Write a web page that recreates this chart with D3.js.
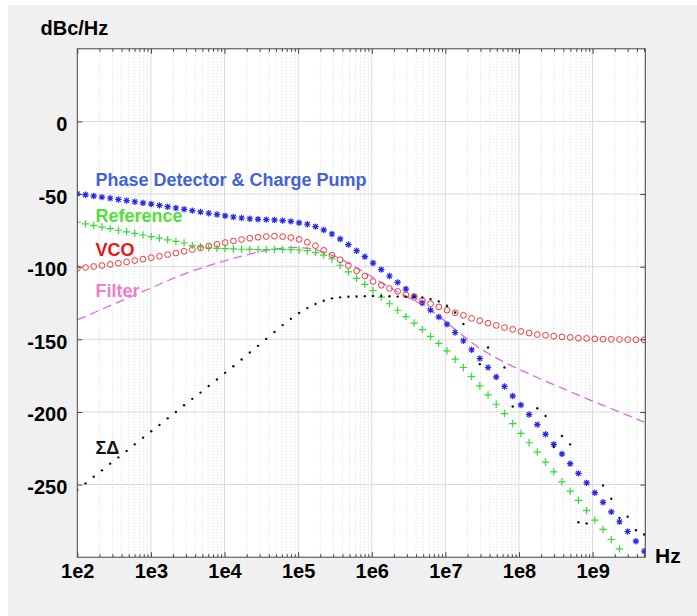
<!DOCTYPE html>
<html>
<head>
<meta charset="utf-8">
<script src="https://cdn.jsdelivr.net/npm/d3@7"></script>
<style>
  body { margin: 0; background: #fff; }
  text { font-family: "Liberation Sans", Arial, sans-serif; font-weight: bold; }
</style>
</head>
<body>
<svg id="chart"></svg>
<script>
// offset frequencies (Hz), one per sample
const freq = [
  100, 129.3, 167.2, 216.2, 279.5, 361.4, 467.2, 604.1, 781.1, 1010,
  1306, 1689, 2184, 2823, 3650, 4719, 6102, 7890, 10200, 13190,
  17050, 22050, 28520, 36870, 47680, 61650, 79690, 1.030e5, 1.332e5, 1.722e5,
  2.227e5, 2.880e5, 3.724e5, 4.815e5, 6.226e5, 8.050e5, 1.041e6, 1.346e6, 1.740e6, 2.250e6,
  2.909e6, 3.761e6, 4.864e6, 6.289e6, 8.130e6, 1.051e7, 1.359e7, 1.757e7, 2.272e7, 2.938e7,
  3.799e7, 4.912e7, 6.352e7, 8.213e7, 1.062e8, 1.373e8, 1.775e8, 2.296e8, 2.968e8, 3.838e8,
  4.962e8, 6.415e8, 8.295e8, 1.072e9, 1.387e9, 1.793e9, 2.318e9, 2.998e9, 3.876e9, 5.012e9
];

// phase noise contributions, dBc/Hz
const pdcp = [
  -49.8, -50.5, -51.3, -52.1, -52.9, -53.7, -54.5, -55.3, -56.1, -56.9,
  -57.8, -58.7, -59.6, -60.5, -61.4, -62.3, -63.2, -64.1, -65.0, -65.8,
  -66.5, -67.0, -67.3, -67.6, -67.8, -68.3, -68.8, -69.8, -70.8, -72.4,
  -74.7, -77.5, -80.9, -84.8, -89.0, -93.1, -97.5, -102.0, -106.4, -110.8,
  -115.4, -120.3, -125.0, -129.9, -134.6, -139.6, -145.3, -151.0, -157.2, -163.2,
  -169.4, -175.9, -182.5, -189.0, -195.2, -201.8, -208.7, -215.4, -222.3, -228.9,
  -235.6, -242.3, -248.8, -255.6, -262.2, -268.8, -275.6, -282.3, -289.0, -295.9
];

const reference = [
  -69.4, -70.5, -71.6, -72.7, -73.8, -74.9, -76.0, -77.1, -78.2, -79.3,
  -80.4, -81.5, -82.6, -83.7, -85.5, -86.3, -87.0, -87.4, -87.6, -87.8,
  -88.0, -88.1, -88.2, -88.2, -88.1, -88.1, -88.2, -88.5, -89.0, -90.3,
  -92.0, -94.7, -99.0, -103.6, -108.0, -112.2, -116.4, -120.9, -125.5, -130.0,
  -134.4, -138.8, -143.3, -148.0, -152.8, -157.9, -163.7, -169.4, -175.6, -182.0,
  -188.3, -194.7, -201.1, -208.0, -214.7, -221.2, -227.6, -234.5, -241.2, -248.1,
  -254.5, -260.9, -267.8, -274.5, -280.9, -287.8, -294.3, -301.0, -307.7, -314.4
];

const vco = [
  -101.2, -100.6, -99.9, -99.2, -98.4, -97.6, -96.7, -95.8, -94.8, -93.8,
  -92.8, -91.7, -90.6, -89.4, -88.2, -87.0, -85.8, -84.6, -83.4, -82.3,
  -81.3, -80.4, -79.7, -79.2, -79.0, -79.3, -79.9, -81.2, -83.2, -85.6,
  -88.8, -92.0, -95.2, -99.3, -102.8, -106.4, -110.2, -112.8, -115.0, -117.0,
  -119.4, -121.2, -123.4, -125.5, -127.7, -129.9, -131.7, -133.5, -135.6, -137.2,
  -138.9, -140.4, -141.9, -143.2, -144.6, -145.7, -146.7, -147.2, -147.8, -148.3,
  -148.7, -149.2, -149.4, -149.7, -149.9, -150.0, -150.1, -150.2, -150.3, -150.4
];

const filter = [
  -136.6, -134.2, -131.7, -129.3, -126.8, -124.4, -121.9, -119.5, -117.0, -114.6,
  -112.1, -109.7, -107.3, -105.1, -103.0, -101.1, -99.3, -97.6, -95.9, -94.3,
  -92.8, -91.3, -90.0, -88.8, -87.9, -87.2, -86.8, -86.8, -87.3, -88.3,
  -89.9, -92.0, -94.5, -97.5, -100.7, -104.0, -107.4, -110.8, -114.2, -117.4,
  -120.4, -123.2, -126.2, -129.6, -134.0, -138.5, -143.2, -147.8, -152.2, -156.2,
  -159.6, -162.8, -165.8, -168.6, -171.2, -173.8, -176.3, -178.8, -181.2, -183.6,
  -186.0, -188.4, -190.8, -193.2, -195.5, -197.8, -200.0, -202.3, -204.6, -207.0
];

// null = no visible sample
const sigmaDelta = [
  -253.6, -249.2, -244.6, -240.2, -235.6, -231.3, -226.9, -222.3, -217.7, -213.3,
  -209.0, -204.4, -200.0, -195.4, -191.0, -186.7, -182.1, -177.7, -173.1, -168.5,
  -163.9, -159.1, -154.5, -149.7, -145.0, -140.2, -135.9, -131.9, -128.5, -125.7,
  -123.4, -121.8, -121.1, -120.7, -120.5, -120.3, -120.2, -120.2, -120.4, -120.6,
  -120.6, -120.7, -121.1, -122.3, -123.9, -126.9, -131.5, -139.5, null, -167.1,
  -155.6, null, -169.4, -196.3, null, null, -197.5, -202.8, -224.1, -216.6,
  -222.3, -275.9, -276.8, null, -250.6, -259.8, -272.9, -272.2, -281.4, -284.4
];

const seriesNames = ["Phase Detector & Charge Pump", "Reference", "VCO", "Filter", "ΣΔ"];

const xTickValues = [1e2, 1e3, 1e4, 1e5, 1e6, 1e7, 1e8, 1e9];
const xTickLabels = ["1e2", "1e3", "1e4", "1e5", "1e6", "1e7", "1e8", "1e9"];
const yTickValues = [0, -50, -100, -150, -200, -250];
const yTickLabels = ["0", "-50", "-100", "-150", "-200", "-250"];

(function () {
  const width = 697;
  const height = 616;
  const left = 77.3, right = 645.3, top = 48.8, bottom = 557.2;

  const svg = d3.select("#chart")
    .attr("width", width)
    .attr("height", height);

  // figure background
  svg.append("rect").attr("width", width).attr("height", height).attr("fill", "#fff");
  svg.append("rect")
    .attr("x", 8).attr("y", 5)
    .attr("width", width - 8).attr("height", height - 5)
    .attr("fill", "#f0f0f0");

  svg.append("rect")
    .attr("x", left).attr("y", top)
    .attr("width", right - left).attr("height", bottom - top)
    .attr("fill", "#fff");

  const x = d3.scaleLog().domain([1e2, 5.2e9]).range([left, right]);
  const y = d3.scaleLinear().domain([-300, 50]).range([bottom, top]);

  // minor decade positions
  const minorX = [];
  xTickValues.forEach(d => {
    for (let k = 2; k <= 9; k++) {
      if (k * d < x.domain()[1]) minorX.push(k * d);
    }
  });

  const grid = svg.append("g");

  grid.selectAll("line.minor")
    .data(minorX)
    .join("line")
    .attr("class", "minor")
    .attr("x1", d => x(d)).attr("x2", d => x(d))
    .attr("y1", top).attr("y2", bottom)
    .attr("stroke", "#cfcfcf")
    .attr("stroke-width", 0.8)
    .attr("stroke-dasharray", "1,2");

  grid.selectAll("line.major")
    .data(xTickValues.slice(1))
    .join("line")
    .attr("class", "major")
    .attr("x1", d => x(d)).attr("x2", d => x(d))
    .attr("y1", top).attr("y2", bottom)
    .attr("stroke", "#d9d9d9")
    .attr("stroke-width", 1);

  grid.selectAll("line.hmajor")
    .data(yTickValues)
    .join("line")
    .attr("class", "hmajor")
    .attr("x1", left).attr("x2", right)
    .attr("y1", d => y(d)).attr("y2", d => y(d))
    .attr("stroke", "#d9d9d9")
    .attr("stroke-width", 1);

  // data
  svg.append("clipPath").attr("id", "plotclip")
    .append("rect")
    .attr("x", left).attr("y", top)
    .attr("width", right - left).attr("height", bottom - top);

  const plot = svg.append("g").attr("clip-path", "url(#plotclip)");
  const inRange = v => v !== null && v >= -300 && v <= 50;

  const pts = vals => freq.map((f, i) => ({ f: f, v: vals[i] })).filter(d => inRange(d.v));

  plot.append("path")
    .datum(freq.map((f, i) => ({ f: f, v: filter[i] })))
    .attr("fill", "none")
    .attr("stroke", "#e066e6")
    .attr("stroke-width", 1.3)
    .attr("stroke-dasharray", "9,5")
    .attr("d", d3.line().x(d => x(d.f)).y(d => y(d.v)));

  const s = 3.2, dg = 2.3;
  plot.append("g")
    .selectAll("path")
    .data(pts(pdcp))
    .join("path")
    .attr("transform", d => `translate(${x(d.f)},${y(d.v)})`)
    .attr("d", `M${-s},0H${s}M0,${-s}V${s}M${-dg},${-dg}L${dg},${dg}M${-dg},${dg}L${dg},${-dg}`)
    .attr("stroke", "#2828ee")
    .attr("stroke-width", 1.2)
    .attr("fill", "none");

  const p = 3.7;
  plot.append("g")
    .selectAll("path")
    .data(pts(reference))
    .join("path")
    .attr("transform", d => `translate(${x(d.f)},${y(d.v)})`)
    .attr("d", `M${-p},0H${p}M0,${-p}V${p}`)
    .attr("stroke", "#33dd33")
    .attr("stroke-width", 1.2)
    .attr("fill", "none");

  plot.append("g")
    .selectAll("circle")
    .data(pts(vco))
    .join("circle")
    .attr("cx", d => x(d.f))
    .attr("cy", d => y(d.v))
    .attr("r", 2.9)
    .attr("fill", "none")
    .attr("stroke", "#ee3838")
    .attr("stroke-width", 1);

  plot.append("g")
    .selectAll("circle")
    .data(pts(sigmaDelta))
    .join("circle")
    .attr("cx", d => x(d.f))
    .attr("cy", d => y(d.v))
    .attr("r", 1.2)
    .attr("fill", "#111");

  // axes
  const axisColor = "#444";
  const styleAxis = g => {
    g.select(".domain").remove();
    g.selectAll(".tick line").attr("stroke", axisColor);
    g.selectAll("text").attr("fill", "#000").attr("font-size", 20).attr("font-weight", "bold")
      .attr("font-family", "\"Liberation Sans\", Arial, sans-serif");
  };

  svg.append("g")
    .attr("transform", `translate(0,${bottom})`)
    .call(d3.axisBottom(x).tickValues(minorX).tickFormat("").tickSizeInner(-3).tickSizeOuter(0))
    .call(styleAxis);
  svg.append("g")
    .attr("transform", `translate(0,${bottom})`)
    .call(d3.axisBottom(x).tickValues(xTickValues).tickFormat((d, i) => xTickLabels[i])
      .tickSizeInner(-5).tickSizeOuter(0).tickPadding(7))
    .call(styleAxis);

  svg.append("g")
    .attr("transform", `translate(0,${top})`)
    .call(d3.axisTop(x).tickValues(minorX).tickFormat("").tickSizeInner(-3).tickSizeOuter(0))
    .call(styleAxis);
  svg.append("g")
    .attr("transform", `translate(0,${top})`)
    .call(d3.axisTop(x).tickValues(xTickValues).tickFormat("").tickSizeInner(-5).tickSizeOuter(0))
    .call(styleAxis);

  svg.append("g")
    .attr("transform", `translate(${left},0)`)
    .call(d3.axisLeft(y).tickValues(yTickValues).tickFormat((d, i) => yTickLabels[i])
      .tickSizeInner(-5).tickSizeOuter(0).tickPadding(10))
    .call(styleAxis)
    .selectAll("text").attr("dy", "0.45em");

  svg.append("g")
    .attr("transform", `translate(${right},0)`)
    .call(d3.axisRight(y).tickValues(yTickValues).tickFormat("").tickSizeInner(-5).tickSizeOuter(0))
    .call(styleAxis);

  svg.append("rect")
    .attr("x", left).attr("y", top)
    .attr("width", right - left).attr("height", bottom - top)
    .attr("fill", "none")
    .attr("stroke", axisColor)
    .attr("stroke-width", 1);

  // axis titles
  svg.append("text")
    .attr("x", 40.5).attr("y", 35)
    .attr("font-size", 20)
    .text("dBc/Hz");

  svg.append("text")
    .attr("x", 655).attr("y", 563)
    .attr("font-size", 21)
    .text("Hz");

  // curve labels
  const labelColors = ["#4262d6", "#52e03c", "#ec1414", "#f07cd0", "#111"];
  const labelY = [186, 221.5, 255.7, 296.5, 454];
  svg.append("g")
    .selectAll("text")
    .data(seriesNames)
    .join("text")
    .attr("x", 95.5)
    .attr("y", (d, i) => labelY[i])
    .attr("font-size", 18)
    .attr("fill", (d, i) => labelColors[i])
    .text(d => d);
})();
</script>
</body>
</html>
